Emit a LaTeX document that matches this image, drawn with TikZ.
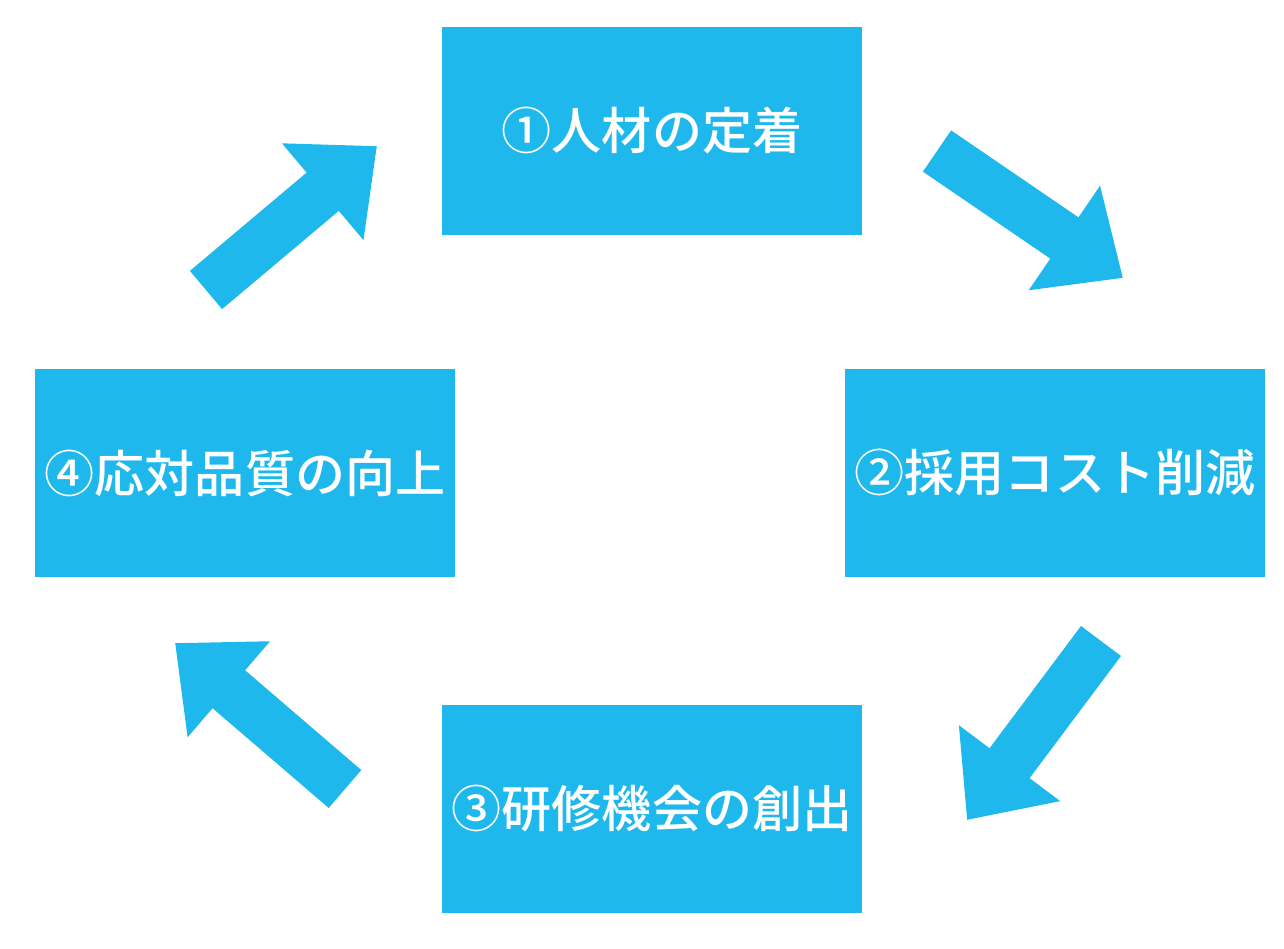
\documentclass[tikz,border=0pt]{standalone}
\usepackage{fontspec}
\newfontfamily\jpfont{Noto Sans CJK JP}[BoldFont={* Medium}]
\usetikzlibrary{arrows.meta}
\definecolor{skyblue}{RGB}{31,184,237}

\begin{document}
\begin{tikzpicture}[
    x=0.02cm, y=-0.02cm,
    % Styles for the four boxes and the block arrows
    stage/.style={rectangle, fill=skyblue, minimum width=8.4cm, minimum height=4.16cm, inner sep=0pt, text=white, font=\jpfont\bfseries\fontsize{28.5}{34}\selectfont},
    fatarrow/.style={draw=skyblue, line width=1cm, -{Triangle[length=1.42cm, width=2.44cm]}}
]

  \useasboundingbox (0,0) rectangle (1284,948);

  % --- STAGES ---
  \node[stage] (retain) at (652,131) {①人材の定着};
  \node[stage] (cost) at (1055,473) {②採用コスト削減};
  \node[stage] (train) at (652,809) {③研修機会の創出};
  \node[stage] (service) at (245,473) {④応対品質の向上};

  % --- ARROW END POINTS ---
  \coordinate (a1s) at (937,151);
  \coordinate (a1e) at (1123,278);
  \coordinate (a2s) at (1101,641);
  \coordinate (a2e) at (967,820);
  \coordinate (a3s) at (345,789);
  \coordinate (a3e) at (175,643);
  \coordinate (a4s) at (206,290);
  \coordinate (a4e) at (377,146);

  % --- CYCLE ARROWS ---
  \draw[fatarrow] (a1s) -- (a1e);
  \draw[fatarrow] (a2s) -- (a2e);
  \draw[fatarrow] (a3s) -- (a3e);
  \draw[fatarrow] (a4s) -- (a4e);

\end{tikzpicture}
\end{document}
